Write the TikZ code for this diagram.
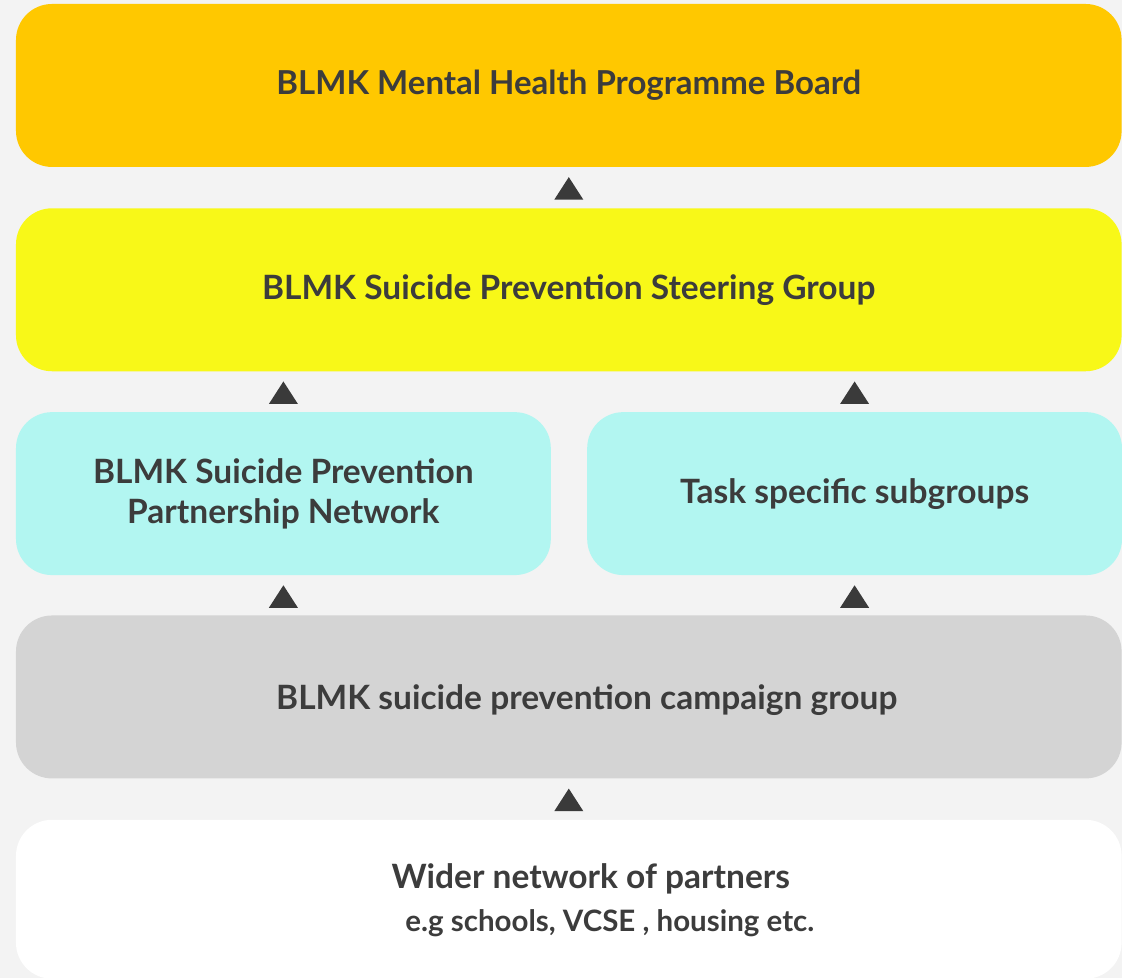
\documentclass[tikz,border=0pt]{standalone}
\usepackage{fontspec}
\setmainfont{Lato}
\usepackage{tikz}
\usetikzlibrary{positioning}

\definecolor{bgfill}{HTML}{F3F3F3}
\definecolor{boardfill}{HTML}{FFC800}
\definecolor{steerfill}{HTML}{F8F818}
\definecolor{netfill}{HTML}{B2F6F1}
\definecolor{campfill}{HTML}{D4D4D4}
\definecolor{txtgray}{HTML}{3C3C3C}
\definecolor{tipgray}{HTML}{3A3A3A}

\begin{document}
\begin{tikzpicture}[x=1pt, y=1pt]
        \tikzstyle{box}=[rectangle, rounded corners=36pt, minimum height=163pt, inner sep=0pt,
            text=txtgray, align=center, font=\fontsize{33.5}{40}\selectfont\bfseries]
        \tikzstyle{wide}=[box, minimum width=1106pt]
        \tikzstyle{half}=[box, minimum width=535pt]
        \tikzstyle{txt}=[text=txtgray, inner sep=0pt, font=\fontsize{33.5}{40}\selectfont\bfseries]

        \fill[bgfill] (0,0) rectangle (1122,978);

        \node   (board)     [wide, fill=boardfill, font=\fontsize{33}{40}\selectfont\bfseries] at (569,892.5) {BLMK Mental Health Programme Board};
        \node   (steering)  [wide, fill=steerfill, below=41pt of board] {BLMK Suicide Prevention Steering Group};
        \node   (network)   [half, fill=netfill, below right=40.5pt and 0pt of steering.south west]
                            {BLMK Suicide Prevention\\Partnership Network};
        \node   (subgroups) [half, fill=netfill, right=36pt of network] {Task specific subgroups};
        \node   (campaign)  [wide, fill=campfill, below right=40pt and 0pt of network.south west] {};
        \node   (partners)  [wide, fill=white, minimum height=159pt, below=41pt of campaign] {};

        % texts that sit off centre
        \node   (campaigntxt) [txt] at ([xshift=18pt, yshift=-3pt]campaign.center) {BLMK suicide prevention campaign group};
        \node   (partnershead) [txt] at ([xshift=22pt, yshift=20pt]partners.center) {Wider network of partners};
        \node   (partnersnote) [txt, font=\fontsize{29.5}{34}\selectfont\bfseries]
                               at ([xshift=41pt, yshift=-24pt]partners.center) {e.g schools, VCSE , housing etc.};

        % upward marks between the rows
        \foreach \a/\b in {board/board, network/steering, subgroups/steering, network/network, subgroups/subgroups, campaign/campaign}
            \fill[tipgray] (\a.center |- \b.south) ++(0,-10) -- ++(14.5,-22.5) -- ++(-29,0) -- cycle;

    \end{tikzpicture}
\end{document}
